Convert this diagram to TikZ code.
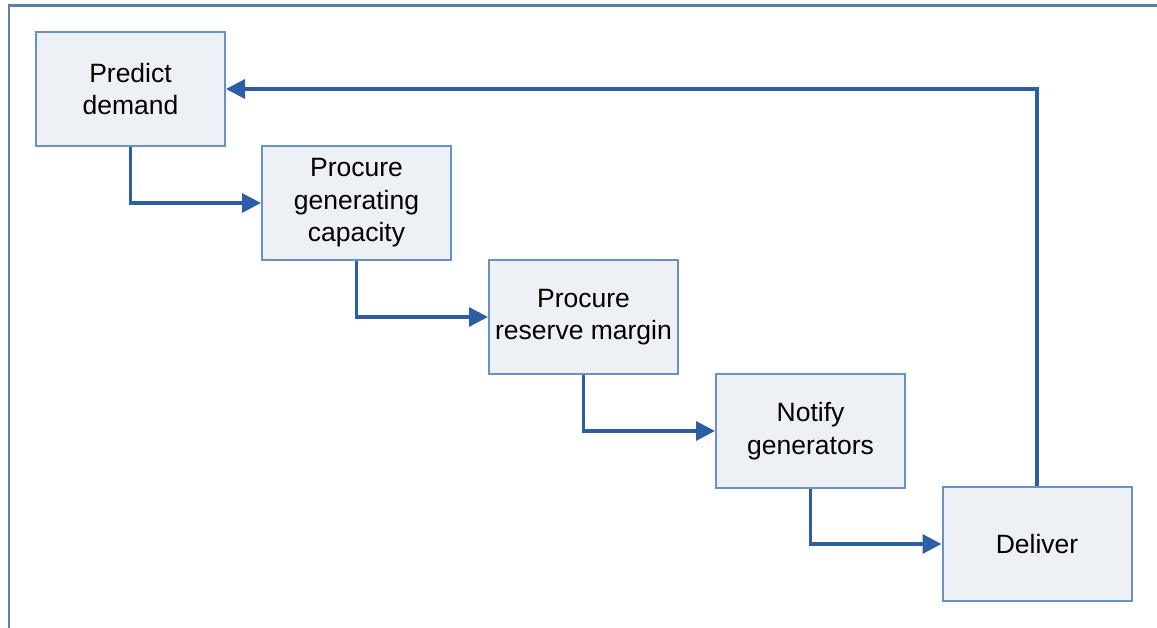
\documentclass[tikz,border=0pt]{standalone}
\usepackage{fontspec}
\setmainfont{Liberation Sans}
\usetikzlibrary{arrows.meta}
\definecolor{frameblue}{HTML}{5A80AE}
\definecolor{boxline}{HTML}{6891C8}
\definecolor{boxfill}{HTML}{EDF0F5}
\definecolor{flowblue}{HTML}{2B5EA7}
\begin{document}
\begin{tikzpicture}[x=1pt,y=-1pt,
  stepbox/.style={draw=boxline, fill=boxfill, line width=2pt,
    minimum width=189pt, minimum height=114pt, inner sep=0pt,
    align=center, font=\fontsize{26.5}{32.5}\selectfont, text=black},
  flow/.style={draw=flowblue, line width=3.2pt,
    -{Triangle[length=19pt,width=19pt]}}]
  \useasboundingbox (0,0) rectangle (1157,628);
  % outer frame, open to the right and bottom
  \draw[frameblue, line width=2.6pt] (1160,5.8) -- (8.8,5.8) -- (8.8,632);
  % process steps
  \node[stepbox] (predict) at (130.5,89) {Predict\\demand};
  \node[stepbox] (gen) at (356.5,203) {Procure\\generating\\capacity};
  \node[stepbox] (reserve) at (583.5,317) {Procure\\reserve margin};
  \node[stepbox] (notify) at (810.5,431) {Notify\\generators};
  \node[stepbox] (deliver) at (1037,544) {Deliver};
  % connectors
  \draw[flow] (predict.south) |- (gen.west);
  \draw[flow] (gen.south) |- (reserve.west);
  \draw[flow] (reserve.south) |- (notify.west);
  \draw[flow] (notify.south) |- (deliver.west);
  \draw[flow] (deliver.north) |- (predict.east);
\end{tikzpicture}
\end{document}
